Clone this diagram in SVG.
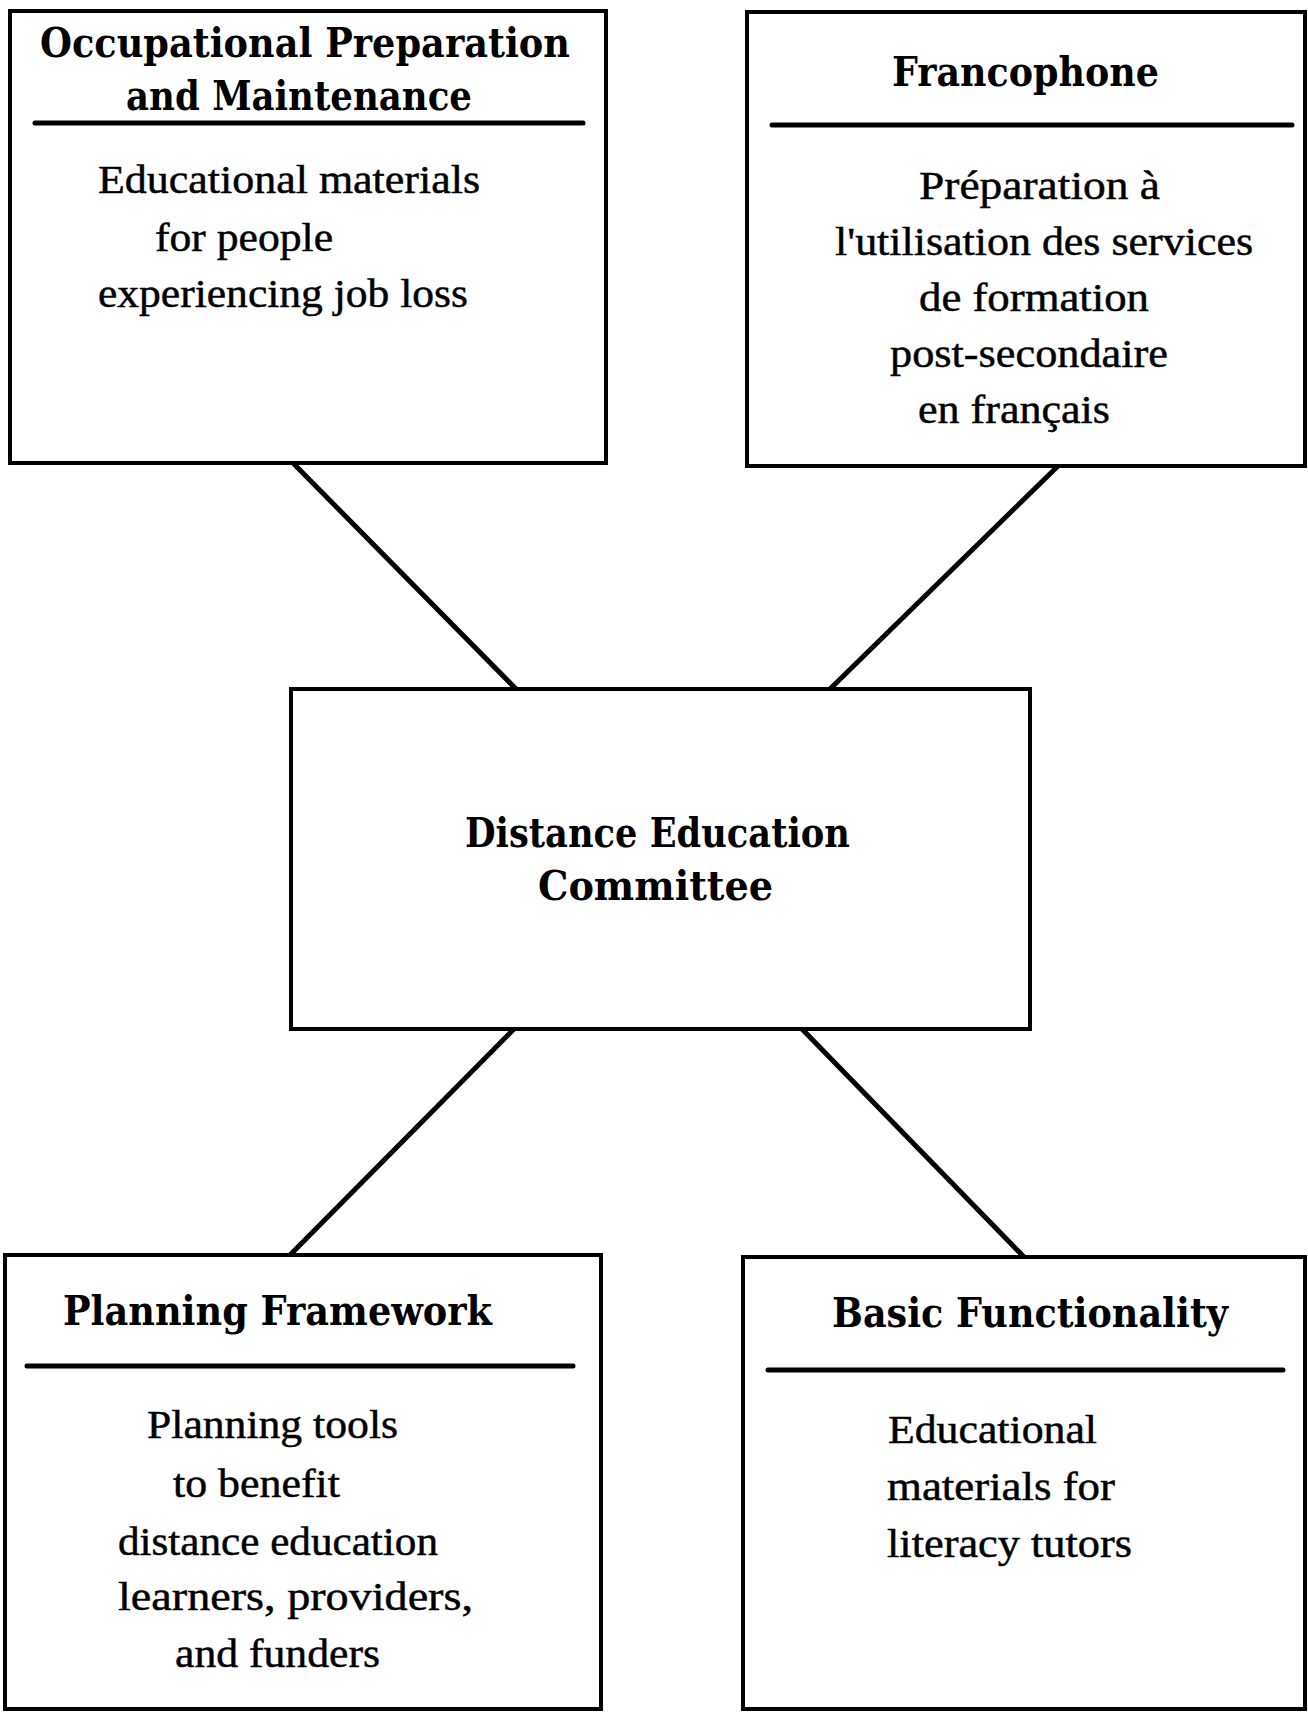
<svg xmlns="http://www.w3.org/2000/svg" width="1308" height="1712" viewBox="0 0 1308 1712">
<style>
.box{fill:#fff;stroke:#000;stroke-width:4}
.rule{stroke:#000;stroke-width:5;stroke-linecap:round}
.conn{stroke:#000;stroke-width:5;fill:none}
.title{font-family:"DejaVu Serif","Liberation Serif",serif;font-weight:bold;font-size:41px;fill:#000}
.body{font-family:"Liberation Serif","Times New Roman",serif;font-size:41px;fill:#000;stroke:#000;stroke-width:0.5}
</style>
<rect width="1308" height="1712" fill="#fff"/>
<g id="connectors">
<line class="conn" x1="293" y1="463" x2="516" y2="689"/>
<line class="conn" x1="1058" y1="466" x2="830" y2="689"/>
<line class="conn" x1="514" y1="1029" x2="290" y2="1255"/>
<line class="conn" x1="802" y1="1029" x2="1024" y2="1257"/>
</g>
<g id="occupational">
<rect class="box" x="10" y="11" width="596" height="452"/>
<text class="title" x="40" y="57" textLength="530" lengthAdjust="spacingAndGlyphs">Occupational Preparation</text>
<text class="title" x="126" y="110" textLength="346" lengthAdjust="spacingAndGlyphs">and Maintenance</text>
<line class="rule" x1="35" y1="123" x2="583" y2="123"/>
<text class="body" x="98" y="193" textLength="382" lengthAdjust="spacingAndGlyphs">Educational materials</text>
<text class="body" x="155" y="251" textLength="178" lengthAdjust="spacingAndGlyphs">for people</text>
<text class="body" x="98" y="307" textLength="370" lengthAdjust="spacingAndGlyphs">experiencing job loss</text>
</g>
<g id="francophone">
<rect class="box" x="747" y="12" width="558" height="454"/>
<text class="title" x="892" y="86" textLength="267" lengthAdjust="spacingAndGlyphs">Francophone</text>
<line class="rule" x1="772" y1="125" x2="1292" y2="125"/>
<text class="body" x="919" y="199" textLength="241" lengthAdjust="spacingAndGlyphs">Préparation à</text>
<text class="body" x="835" y="255" textLength="418" lengthAdjust="spacingAndGlyphs">l'utilisation des services</text>
<text class="body" x="919" y="311" textLength="230" lengthAdjust="spacingAndGlyphs">de formation</text>
<text class="body" x="890" y="367" textLength="278" lengthAdjust="spacingAndGlyphs">post-secondaire</text>
<text class="body" x="918" y="423" textLength="192" lengthAdjust="spacingAndGlyphs">en français</text>
</g>
<g id="committee">
<rect class="box" x="291" y="689" width="739" height="340"/>
<text class="title" x="465" y="847" textLength="385" lengthAdjust="spacingAndGlyphs">Distance Education</text>
<text class="title" x="538" y="900" textLength="235" lengthAdjust="spacingAndGlyphs">Committee</text>
</g>
<g id="planning">
<rect class="box" x="5" y="1255" width="596" height="454"/>
<text class="title" x="63" y="1325" textLength="429" lengthAdjust="spacingAndGlyphs">Planning Framework</text>
<line class="rule" x1="27" y1="1366" x2="573" y2="1366"/>
<text class="body" x="147" y="1438" textLength="251" lengthAdjust="spacingAndGlyphs">Planning tools</text>
<text class="body" x="173" y="1497" textLength="167" lengthAdjust="spacingAndGlyphs">to benefit</text>
<text class="body" x="118" y="1555" textLength="320" lengthAdjust="spacingAndGlyphs">distance education</text>
<text class="body" x="118" y="1610" textLength="355" lengthAdjust="spacingAndGlyphs">learners, providers,</text>
<text class="body" x="175" y="1667" textLength="205" lengthAdjust="spacingAndGlyphs">and funders</text>
</g>
<g id="basic">
<rect class="box" x="743" y="1257" width="562" height="452"/>
<text class="title" x="832" y="1327" textLength="396" lengthAdjust="spacingAndGlyphs">Basic Functionality</text>
<line class="rule" x1="768" y1="1370" x2="1283" y2="1370"/>
<text class="body" x="888" y="1443" textLength="209" lengthAdjust="spacingAndGlyphs">Educational</text>
<text class="body" x="887" y="1500" textLength="228" lengthAdjust="spacingAndGlyphs">materials for</text>
<text class="body" x="887" y="1557" textLength="245" lengthAdjust="spacingAndGlyphs">literacy tutors</text>
</g>
</svg>
